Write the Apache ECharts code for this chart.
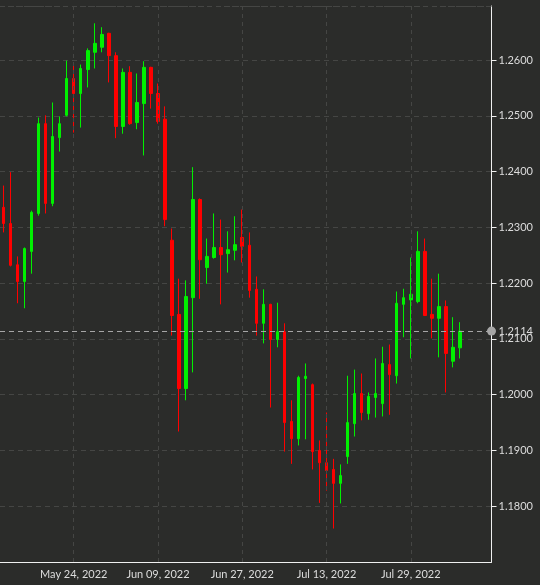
<!DOCTYPE html>
<html>
<head>
<meta charset="utf-8">
<script src="https://cdn.jsdelivr.net/npm/echarts@6/dist/echarts.min.js"></script>
<style>
  html, body { margin: 0; padding: 0; background: #2b2c2a; }
  #chart { width: 540px; height: 585px; }
</style>
</head>
<body>
<div id="chart"></div>
<script>
// trading days shown (last 4 are empty room on the right)
const mayDays = [10, 11, 12, 13, 16, 17, 18, 19, 20, 23, 24, 25, 26, 27, 30, 31];
const junDays = [1, 2, 3, 6, 7, 8, 9, 10, 13, 14, 15, 16, 17, 20, 21, 22, 23, 24, 27, 28, 29, 30];
const julDays = [1, 4, 5, 6, 7, 8, 11, 12, 13, 14, 15, 18, 19, 20, 21, 22, 25, 26, 27, 28, 29];
const augDays = [1, 2, 3, 4, 5, 8, 9, 10, 11, 12, 15];

const tickLabels = ['May 24, 2022', 'Jun 09, 2022', 'Jun 27, 2022', 'Jul 13, 2022', 'Jul 29, 2022'];

const opens = [1.2336, 1.2307, 1.2233, 1.2203, 1.2257, 1.2325, 1.2486, 1.2343, 1.2461, 1.2501,
  1.2567, 1.2540, 1.2583, 1.2614, 1.2623, 1.2648, 1.2608, 1.2481, 1.2578, 1.2488,
  1.2522, 1.2587, 1.2540, 1.2494, 1.2277, 1.2144, 1.2011, 1.2174, 1.2350, 1.2228,
  1.2246, 1.2264, 1.2253, 1.2259, 1.2282, 1.2268, 1.2189, 1.2128, 1.2162, 1.2099,
  1.2113, 1.1952, 1.1921, 1.2029, 1.2018, 1.1900, 1.1878, 1.1866, 1.1841, 1.1889,
  1.1948, 1.2002, 1.1966, 1.1995, 1.1984, 1.2054, 1.2034, 1.2162, 1.2170, 1.2167,
  1.2257, 1.2144, 1.2137, 1.2158, 1.2060, 1.2084];
const closes = [1.2307, 1.2232, 1.2203, 1.2262, 1.2327, 1.2486, 1.2343, 1.2463, 1.2486, 1.2567,
  1.2540, 1.2585, 1.2617, 1.2630, 1.2646, 1.2608, 1.2481, 1.2578, 1.2486, 1.2524,
  1.2587, 1.2540, 1.2490, 1.2314, 1.2142, 1.2011, 1.2176, 1.2350, 1.2242, 1.2248,
  1.2264, 1.2251, 1.2260, 1.2269, 1.2266, 1.2187, 1.2128, 1.2162, 1.2099, 1.2113,
  1.1950, 1.1921, 1.2031, 1.2033, 1.1898, 1.1878, 1.1864, 1.1841, 1.1855, 1.1950,
  1.2002, 1.1968, 1.1997, 1.2002, 1.2056, 1.2036, 1.2164, 1.2174, 1.2180, 1.2257,
  1.2142, 1.2137, 1.2158, 1.2074, 1.2085, 1.2114];
const lows = [1.2291, 1.2230, 1.2164, 1.2155, 1.2217, 1.2321, 1.2325, 1.2338, 1.2436, 1.2499,
  1.2470, 1.2479, 1.2551, 1.2585, 1.2614, 1.2560, 1.2460, 1.2468, 1.2484, 1.2476,
  1.2429, 1.2513, 1.2486, 1.2302, 1.2106, 1.1934, 1.1990, 1.2040, 1.2172, 1.2199,
  1.2244, 1.2162, 1.2219, 1.2241, 1.2237, 1.2174, 1.2106, 1.2092, 1.1977, 1.2085,
  1.1898, 1.1876, 1.1909, 1.1920, 1.1866, 1.1806, 1.1828, 1.1760, 1.1805, 1.1876,
  1.1925, 1.1954, 1.1955, 1.1959, 1.1961, 1.1964, 1.2020, 1.2103, 1.2065, 1.2164,
  1.2141, 1.2101, 1.2067, 1.2004, 1.2049, 1.2065];
const highs = [1.2375, 1.2399, 1.2248, 1.2264, 1.2330, 1.2497, 1.2501, 1.2524, 1.2499, 1.2599,
  1.2596, 1.2592, 1.2621, 1.2666, 1.2659, 1.2649, 1.2614, 1.2585, 1.2589, 1.2576,
  1.2598, 1.2588, 1.2558, 1.2517, 1.2298, 1.2208, 1.2205, 1.2408, 1.2352, 1.2280,
  1.2325, 1.2314, 1.2293, 1.2320, 1.2332, 1.2291, 1.2212, 1.2189, 1.2163, 1.2165,
  1.2128, 1.1990, 1.2034, 1.2056, 1.2020, 1.1918, 1.1968, 1.1885, 1.1875, 1.2034,
  1.2045, 1.2038, 1.2004, 1.2065, 1.2086, 1.2090, 1.2185, 1.2190, 1.2246, 1.2293,
  1.2280, 1.2208, 1.2217, 1.2169, 1.2139, 1.2130];

const lastPrice = 1.2114;
const yMin = 1.17, yMax = 1.2697, yStep = 0.01;

// 类目名
const pad = d => String(d).padStart(2, '0');
let dates = [];
[['May', mayDays], ['Jun', junDays], ['Jul', julDays], ['Aug', augDays]].forEach(([m, days]) => {
  days.forEach(d => dates.push(m + ' ' + pad(d) + ', 2022'));
});

let candles = [];
for (let i = 0; i < opens.length; i++) {
  candles.push([opens[i], closes[i], lows[i], highs[i]]);
}

const gridColor = '#454644';
const textColor = '#dcdcdc';
const fontFamily = 'Lato, "Noto Sans", sans-serif';

let chart = echarts.init(document.getElementById('chart'));
chart.setOption({
  backgroundColor: '#2b2c2a',
  animation: false,
  grid: {
    left: -3,
    right: 48.5,
    top: 6,
    bottom: 23,
  },
  xAxis: {
    type: 'category',
    data: dates,
    boundaryGap: true,
    axisLine: { lineStyle: { color: '#f0f0f0', width: 1 } },
    axisTick: {
      alignWithLabel: true,
      length: 4,
      interval: (idx, val) => tickLabels.indexOf(val) >= 0,
      lineStyle: { color: '#f0f0f0' },
    },
    axisLabel: {
      interval: (idx, val) => tickLabels.indexOf(val) >= 0,
      color: textColor,
      fontSize: 11,
      fontFamily: fontFamily,
      margin: 7,
    },
    splitLine: { show: false },
  },
  yAxis: {
    type: 'value',
    position: 'right',
    scale: true,
    min: yMin,
    max: yMax,
    interval: yStep,
    axisLine: { show: true, lineStyle: { color: '#f0f0f0', width: 1 } },
    axisTick: { show: true, length: 5, lineStyle: { color: '#f0f0f0' } },
    axisLabel: {
      showMinLabel: false,
      showMaxLabel: false,
      color: textColor,
      fontSize: 11,
      fontFamily: fontFamily,
      margin: 7,
      formatter: v => v.toFixed(4),
    },
    splitLine: {
      show: true,
      lineStyle: { color: gridColor, type: [5, 4], width: 1 },
    },
  },
  series: [
    {
      type: 'candlestick',
      data: candles,
      barWidth: 3,
      itemStyle: {
        color: '#00f000',
        color0: '#ff0000',
        borderColor: '#00f000',
        borderColor0: '#ff0000',
        borderWidth: 1,
      },
      markLine: {
        silent: true,
        animation: false,
        symbol: 'none',
        precision: 4,
        label: { show: false },
        lineStyle: { color: gridColor, type: [4, 4], width: 1 },
        data: [
          // 竖向网格线
          ...tickLabels.map(t => ({ xAxis: t })),
          // 顶部边线
          { yAxis: yMax },
        ],
      },
    },
    {
      // 当前价线
      type: 'line',
      data: [],
      markLine: {
        silent: true,
        animation: false,
        symbol: ['none', 'circle'],
        symbolSize: 9,
        precision: 4,
        lineStyle: { color: '#a6a6a6', type: [5, 4], width: 1 },
        itemStyle: { color: '#8e8e8e' },
        label: {
          show: true,
          position: 'end',
          distance: 7,
          formatter: lastPrice.toFixed(4),
          color: textColor,
          fontSize: 11,
          fontFamily: fontFamily,
        },
        data: [{ yAxis: lastPrice }],
      },
    },
  ],
});
</script>
</body>
</html>
